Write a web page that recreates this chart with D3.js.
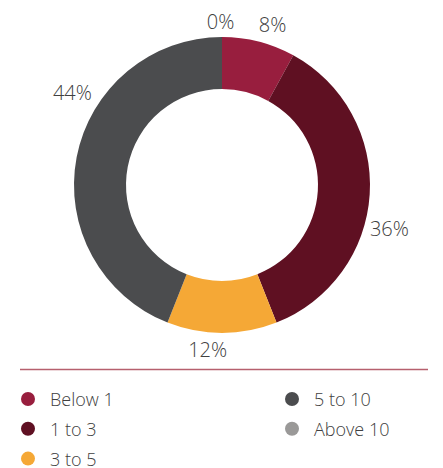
<!DOCTYPE html>
<html>
<head>
<meta charset="utf-8">
<script src="https://cdn.jsdelivr.net/npm/d3@7"></script>
<style>
  html, body { margin: 0; padding: 0; background: #fff; }
  svg { display: block; }
  text { font-family: "Open Sans", sans-serif; font-weight: 300; fill: #404040; }
</style>
</head>
<body>
<svg id="chart" width="443" height="468"></svg>
<script>
// Share of holdings by bucket (%)
const categories = ["Below 1", "1 to 3", "3 to 5", "5 to 10", "Above 10"];
const values = [8, 36, 12, 44, 0];
const colors = ["#981e3e", "#5f1022", "#f5a836", "#4b4c4e", "#9a9998"];
// Per-label angular nudge (degrees) and distance from the centre, so labels clear each other
const labelShift = [3.1, 11, 5, 21, -0.5];
const labelRadius = [168, 173, 165, 176, 164];

const svg = d3.select("#chart");
const cx = 222, cy = 185, rOuter = 148, rInner = 96;

const pie = d3.pie().sort(null).value(d => d)(values);
const arc = d3.arc().innerRadius(rInner).outerRadius(rOuter);
const color = d3.scaleOrdinal().domain(categories).range(colors);

const g = svg.append("g").attr("transform", `translate(${cx},${cy})`);

g.selectAll("path.slice")
  .data(pie)
  .join("path")
  .attr("class", "slice")
  .attr("d", arc)
  .attr("fill", (d, i) => color(categories[i]));

const labelAngle = (d, i) => (d.startAngle + d.endAngle) / 2 + labelShift[i] * Math.PI / 180;

// Value labels outside the ring
g.selectAll("text.val")
  .data(pie)
  .join("text")
  .attr("class", "val")
  .attr("text-anchor", "middle")
  .attr("dominant-baseline", "central")
  .attr("font-size", 20)
  .attr("x", (d, i) => labelRadius[i] * Math.sin(labelAngle(d, i)))
  .attr("y", (d, i) => -labelRadius[i] * Math.cos(labelAngle(d, i)))
  .text(d => d.value + "%");

// Divider rule
svg.append("line")
  .attr("x1", 20).attr("x2", 428)
  .attr("y1", 369.5).attr("y2", 369.5)
  .attr("stroke", "#b6606e")
  .attr("stroke-width", 1.5);

// Legend: two columns
const legend = svg.append("g");
const colX = [28, 292], rowY0 = 399, rowH = 29.8, perCol = 3;
const items = legend.selectAll("g.item")
  .data(categories)
  .join("g")
  .attr("class", "item")
  .attr("transform", (d, i) => `translate(${colX[Math.floor(i / perCol)]},${rowY0 + (i % perCol) * rowH})`);

items.append("circle")
  .attr("r", 7)
  .attr("fill", d => color(d));

items.append("text")
  .attr("x", 22)
  .attr("dominant-baseline", "central")
  .attr("font-size", 18)
  .text(d => d);
</script>
</body>
</html>
